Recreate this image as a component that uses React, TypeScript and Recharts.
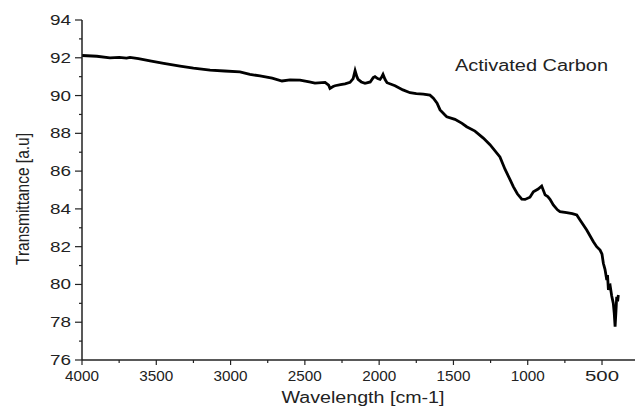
import React from 'react';
import { LineChart, Line, XAxis, YAxis } from 'recharts';

// FTIR spectrum
const wavenumbers = [
  4000, 3900, 3812, 3750, 3700, 3677, 3620, 3542, 3450, 3340, 3250, 3138, 3040, 2937, 2870,
  2802, 2720, 2654, 2600, 2533, 2470, 2432, 2364, 2340, 2331, 2310, 2297, 2260, 2230, 2196,
  2175, 2162, 2150, 2142, 2120, 2095, 2060, 2040, 2028, 2010, 1994, 1985, 1974, 1960, 1947,
  1893, 1840, 1792, 1750, 1703, 1658, 1635, 1610, 1590, 1557, 1545, 1490, 1442, 1411, 1355,
  1299, 1254, 1187, 1153, 1119, 1097, 1070, 1040, 1018, 985, 962, 930, 906, 883, 865,
  850, 828, 800, 783, 738, 700, 670, 648, 603, 558, 536, 513, 500, 491, 480,
  468, 463, 457, 452, 446, 435, 424, 418, 412, 406, 401, 395, 390,
];
const transmittance = [
  92.12, 92.08, 92.0, 92.02, 91.98, 92.02, 91.95, 91.83, 91.7, 91.56, 91.45, 91.35, 91.3, 91.25, 91.12,
  91.04, 90.92, 90.77, 90.83, 90.82, 90.72, 90.66, 90.7, 90.55, 90.38, 90.48, 90.52, 90.58, 90.62, 90.7,
  90.9, 91.32, 91.0, 90.86, 90.72, 90.65, 90.72, 90.95, 91.0, 90.9, 90.86, 90.95, 91.12, 90.85, 90.68,
  90.52, 90.3, 90.15, 90.1, 90.08, 90.02, 89.86, 89.6, 89.24, 88.97, 88.88, 88.74, 88.53, 88.35, 88.12,
  87.75, 87.4, 86.75, 86.1, 85.55, 85.18, 84.8, 84.51, 84.5, 84.62, 84.91, 85.05, 85.21, 84.74, 84.65,
  84.51, 84.21, 83.95, 83.85, 83.8, 83.75, 83.68, 83.41, 82.88, 82.26, 82.0, 81.82, 81.6, 81.12, 80.8,
  80.24, 80.5, 79.71, 79.95, 79.97, 79.4, 79.0, 78.5, 77.76, 78.6, 79.35, 79.1, 79.44,
];

const xTicks = [4000, 3750, 3500, 3250, 3000, 2750, 2500, 2250, 2000, 1750, 1500, 1250, 1000, 750, 500];
const yTicks = [76, 77, 78, 79, 80, 81, 82, 83, 84, 85, 86, 87, 88, 89, 90, 91, 92, 93, 94];

const data = wavenumbers.map((w, i) => ({ w, t: transmittance[i] }));

const FONT = '"Liberation Sans", Arial, Helvetica, sans-serif';
const INK = '#222';

const XTick = (props: any) => {
  const { x, y, payload } = props;
  const major = payload.value % 500 === 0;
  return (
    <g>
      <line x1={x} y1={y} x2={x} y2={y + (major ? 5 : 3)} stroke={INK} strokeWidth={1.2} />
      {major && (
        <text x={x} y={y + 21} textAnchor="middle" fontSize={14} fontFamily={FONT} fill={INK}
          textLength={34} lengthAdjust="spacingAndGlyphs">
          {payload.value}
        </text>
      )}
    </g>
  );
};

const YTick = (props: any) => {
  const { x, y, payload } = props;
  const major = payload.value % 2 === 0;
  return (
    <g>
      <line x1={x - (major ? 7 : 3)} y1={y} x2={x} y2={y} stroke={INK} strokeWidth={1.2} />
      {major && (
        <text x={x - 11} y={y + 5} textAnchor="end" fontSize={14} fontFamily={FONT} fill={INK}
          textLength={21} lengthAdjust="spacingAndGlyphs">
          {payload.value}
        </text>
      )}
    </g>
  );
};

const App: React.FC = () => {
  return (
    <div style={{ position: 'absolute', left: 0, top: 0, width: 635, height: 408, background: '#fff' }}>
      <LineChart width={635} height={408} data={data} margin={{ top: 20, right: 0, left: 0, bottom: 0 }}>
        <XAxis
          dataKey="w"
          type="number"
          domain={[278, 4000]}
          reversed
          ticks={xTicks}
          interval={0}
          tickSize={0}
          tickMargin={0}
          tickLine={false}
          tick={<XTick />}
          axisLine={{ stroke: INK, strokeWidth: 1.5 }}
          height={48}
          label={{
            content: () => (
              <text x={363} y={403} textAnchor="middle" fontSize={16} fontFamily={FONT} fill={INK}
                textLength={163} lengthAdjust="spacingAndGlyphs">
                Wavelength [cm-1]
              </text>
            ),
          }}
        />
        <YAxis
          type="number"
          domain={[76, 94]}
          ticks={yTicks}
          interval={0}
          tickSize={0}
          tickMargin={0}
          tickLine={false}
          tick={<YTick />}
          axisLine={{ stroke: INK, strokeWidth: 1.5 }}
          width={82}
          label={{
            content: () => (
              <text x={29} y={199} transform="rotate(-90 29 199)" textAnchor="middle" fontSize={18}
                fontFamily={FONT} fill={INK} textLength={132} lengthAdjust="spacingAndGlyphs">
                Transmittance [a.u]
              </text>
            ),
          }}
        />
        <Line
          type="linear"
          dataKey="t"
          stroke="#000"
          strokeWidth={2.8}
          dot={false}
          isAnimationActive={false}
        />
      </LineChart>
      <svg width={635} height={408} style={{ position: 'absolute', left: 0, top: 0, pointerEvents: 'none' }}>
        <text x={455} y={71} fontSize={16} fontFamily={FONT} fill={INK} textLength={153} lengthAdjust="spacingAndGlyphs">
          Activated Carbon
        </text>
      </svg>
    </div>
  );
};

export default App;
